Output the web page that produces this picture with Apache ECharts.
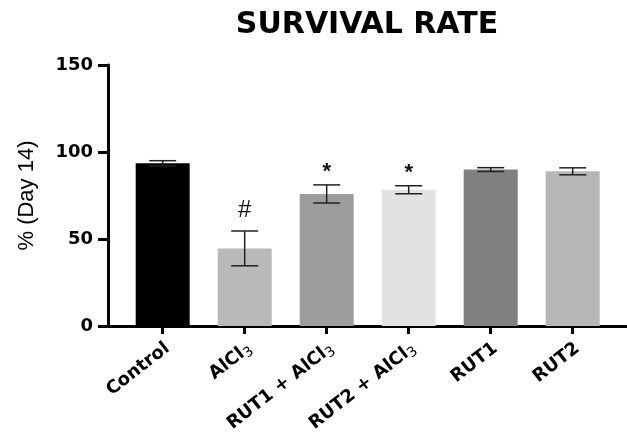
<!DOCTYPE html>
<html>
<head>
<meta charset="utf-8">
<script src="https://cdn.jsdelivr.net/npm/echarts@6/dist/echarts.min.js"></script>
<style>html,body{margin:0;padding:0;background:#fff}#c{width:627px;height:438px}</style>
</head>
<body>
<div id="c"></div>
<script>
var categories = ['Control', 'AlCl3', 'RUT1 + AlCl3', 'RUT2 + AlCl3', 'RUT1', 'RUT2'];
var means = [93.5, 44.6, 75.9, 78.3, 89.9, 88.9];
var errors = [1.5, 10.0, 5.2, 2.3, 1.1, 2.0];
var marks = ['', '#', '*', '*', '', ''];
var colors = ['#000000', '#b9b9b9', '#9d9d9d', '#e1e2e2', '#808080', '#b6b6b6'];
var yTicks = [0, 50, 100, 150];

var FONT = '"Liberation Sans", Arial, sans-serif';
var WIDE = '"DejaVu Sans", "Liberation Sans", sans-serif';
var chart = echarts.init(document.getElementById('c'));
var idx = categories.map(function (c, i) { return i; });

function fmtLabel(v) {
  var name = categories[Math.round(v)];
  if (name === undefined) return '';
  return name.replace('AlCl3', 'AlCl{s|3}');
}

chart.setOption({
  animation: false,
  title: {
    text: 'SURVIVAL RATE', left: 362, top: 5, textAlign: 'center',
    textStyle: { fontFamily: WIDE, fontWeight: 'bold', fontSize: 30, color: '#000' }
  },
  grid: { left: 108, right: 1, top: 65, bottom: 112, containLabel: false },
  xAxis: {
    type: 'value', min: -0.667, max: 5.65,
    splitLine: { show: false },
    axisLine: { show: true, onZero: false, lineStyle: { color: '#000', width: 3 } },
    axisTick: { show: true, customValues: idx, length: 8, lineStyle: { color: '#000', width: 3 } },
    axisLabel: {
      show: true, customValues: idx, rotate: 38, margin: 24,
      padding: [0, -6, 0, 0],
      formatter: fmtLabel,
      fontFamily: WIDE, fontWeight: 'bold', fontSize: 18, color: '#000',
      rich: { s: { fontFamily: WIDE, fontWeight: 'normal', fontSize: 14, color: '#000', verticalAlign: 'bottom', padding: [9, 0, 0, 0] } }
    }
  },
  yAxis: {
    type: 'value', min: 0, max: 150, interval: 50,
    name: '% (Day 14)', nameLocation: 'middle', nameGap: 70, nameRotate: 90,
    nameTextStyle: { fontFamily: FONT, fontSize: 22, color: '#000' },
    splitLine: { show: false },
    axisLine: { show: true, onZero: false, lineStyle: { color: '#000', width: 3 } },
    axisTick: { show: true, length: 10, lineStyle: { color: '#000', width: 3 } },
    axisLabel: {
      margin: 15, fontFamily: WIDE, fontWeight: 'bold', fontSize: 18, color: '#000',
      formatter: function (v) { return yTicks.indexOf(v) >= 0 ? String(v) : ''; }
    }
  },
  series: [
    {
      type: 'bar', barWidth: 54, z: 2,
      data: means.map(function (m, i) { return { value: [i, m], itemStyle: { color: colors[i] } }; })
    },
    {
      type: 'custom', z: 3,
      data: means.map(function (m, i) { return [i, m - errors[i], m + errors[i], marks[i]]; }),
      renderItem: function (params, api) {
        var x = api.value(0);
        var lo = api.coord([x, api.value(1)]);
        var hi = api.coord([x, api.value(2)]);
        var hw = 13.5;
        var st = { stroke: '#222', lineWidth: 1.5 };
        var children = [
          { type: 'line', shape: { x1: lo[0], y1: lo[1], x2: hi[0], y2: hi[1] }, style: st },
          { type: 'line', shape: { x1: hi[0] - hw, y1: hi[1], x2: hi[0] + hw, y2: hi[1] }, style: st },
          { type: 'line', shape: { x1: lo[0] - hw, y1: lo[1], x2: lo[0] + hw, y2: lo[1] }, style: st }
        ];
        var mk = marks[params.dataIndex];
        if (mk) {
          var isHash = mk === '#';
          children.push({
            type: 'text',
            style: {
              text: mk, x: hi[0], y: hi[1] - (isHash ? 21 : 13),
              textAlign: 'center', textVerticalAlign: 'middle',
              font: (isHash ? 'normal 24px ' : 'bold 22px ') + FONT, fill: '#111'
            }
          });
        }
        return { type: 'group', children: children };
      }
    }
  ]
});
</script>
</body>
</html>
